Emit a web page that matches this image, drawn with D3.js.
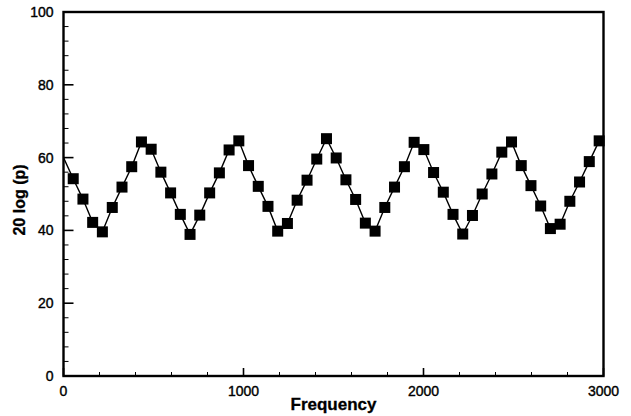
<!DOCTYPE html>
<html>
<head>
<meta charset="utf-8">
<script src="https://cdn.jsdelivr.net/npm/d3@7"></script>
<style>
  html, body { margin: 0; padding: 0; background: #fff; }
  svg { display: block; }
  text { font-family: "Liberation Sans", Arial, sans-serif; fill: #000; }
</style>
</head>
<body>
<svg id="chart" width="631" height="416"></svg>
<script>
// Sampled spectrum: frequency (Hz) and sound level 20 log(p)
const frequency = [
  0, 54, 108, 162, 216, 271, 325, 379, 433, 487, 541, 595, 649, 703,
  757, 812, 866, 920, 974, 1028, 1082, 1136, 1190, 1244, 1298, 1353, 1407, 1461,
  1515, 1569, 1623, 1677, 1731, 1785, 1839, 1894, 1948, 2002, 2056, 2110, 2164, 2218,
  2272, 2326, 2380, 2435, 2489, 2543, 2597, 2651, 2705, 2759, 2813, 2867, 2921, 2976
];
const level = [
  60.0, 54.2, 48.6, 42.2, 39.6, 46.3, 51.9, 57.5, 64.3, 62.3, 56.0, 50.3, 44.4, 38.9,
  44.2, 50.3, 55.8, 62.1, 64.6, 57.8, 52.1, 46.6, 39.8, 41.9, 48.3, 53.8, 59.6, 65.2,
  59.9, 53.9, 48.5, 42.0, 39.8, 46.3, 51.9, 57.5, 64.2, 62.2, 55.9, 50.5, 44.4, 39.0,
  44.1, 50.0, 55.5, 61.5, 64.3, 57.8, 52.3, 46.7, 40.5, 41.7, 48.0, 53.3, 58.9, 64.6
];
const xMajorTicks = [0, 1000, 2000, 3000];
const yMajorTicks = [0, 20, 40, 60, 80, 100];
const xLabel = "Frequency";
const yLabel = "20 log (p)";

(function () {
  const svg = d3.select("#chart");
  const pl = 63.5, pr = 603.5, pt = 12, pb = 376;

  const x = d3.scaleLinear().domain([0, 3000]).range([pl, pr]);
  const y = d3.scaleLinear().domain([0, 100]).range([pb, pt]);

  const points = frequency.map((f, i) => ({ f, v: level[i] }));

  // minor ticks: 4 between each pair of majors
  const xMinor = d3.range(0, 3001, 200).filter(v => v % 1000 !== 0);
  const yMinor = d3.range(0, 101, 4).filter(v => v % 20 !== 0);

  const g = svg.append("g");

  // inward ticks on the bottom axis
  g.selectAll("line.xmaj").data(xMajorTicks).join("line")
    .attr("class", "xmaj")
    .attr("x1", d => x(d)).attr("x2", d => x(d))
    .attr("y1", pb).attr("y2", pb - 8)
    .attr("stroke", "#000").attr("stroke-width", 1.6);
  g.selectAll("line.xmin").data(xMinor).join("line")
    .attr("class", "xmin")
    .attr("x1", d => x(d)).attr("x2", d => x(d))
    .attr("y1", pb).attr("y2", pb - 4)
    .attr("stroke", "#000").attr("stroke-width", 1);

  // inward ticks on the left axis
  g.selectAll("line.ymaj").data(yMajorTicks).join("line")
    .attr("class", "ymaj")
    .attr("x1", pl).attr("x2", pl + 10)
    .attr("y1", d => y(d)).attr("y2", d => y(d))
    .attr("stroke", "#000").attr("stroke-width", 1.6);
  g.selectAll("line.ymin").data(yMinor).join("line")
    .attr("class", "ymin")
    .attr("x1", pl).attr("x2", pl + 5)
    .attr("y1", d => y(d)).attr("y2", d => y(d))
    .attr("stroke", "#000").attr("stroke-width", 1);

  // frame
  g.append("rect")
    .attr("x", pl).attr("y", pt)
    .attr("width", pr - pl).attr("height", pb - pt)
    .attr("fill", "none").attr("stroke", "#000").attr("stroke-width", 2.4);

  // tick labels
  g.selectAll("text.xl").data(xMajorTicks).join("text")
    .attr("class", "xl")
    .attr("x", d => x(d)).attr("y", pb + 20)
    .attr("text-anchor", "middle")
    .style("font-size", "14px")
    .style("stroke", "#000").style("stroke-width", 0.4)
    .text(d => d);
  g.selectAll("text.yl").data(yMajorTicks).join("text")
    .attr("class", "yl")
    .attr("x", pl - 10).attr("y", d => y(d) + 5)
    .attr("text-anchor", "end")
    .style("font-size", "14px")
    .style("stroke", "#000").style("stroke-width", 0.4)
    .text(d => d);

  // axis titles
  svg.append("text")
    .attr("x", (pl + pr) / 2).attr("y", 410)
    .attr("text-anchor", "middle")
    .style("font-size", "17px").style("font-weight", "bold")
    .style("stroke", "#000").style("stroke-width", 0.3)
    .text(xLabel);
  svg.append("text")
    .attr("transform", `translate(25, ${(pt + pb) / 2 + 6}) rotate(-90)`)
    .attr("text-anchor", "middle")
    .style("font-size", "16px").style("font-weight", "bold")
    .style("stroke", "#000").style("stroke-width", 0.3)
    .text(yLabel);

  // clip the trace to the frame
  svg.append("clipPath").attr("id", "plotclip")
    .append("rect").attr("x", pl).attr("y", pt)
    .attr("width", pr - pl).attr("height", pb - pt);

  const line = d3.line().x(d => x(d.f)).y(d => y(d.v));
  svg.append("path")
    .datum(points)
    .attr("clip-path", "url(#plotclip)")
    .attr("fill", "none").attr("stroke", "#000").attr("stroke-width", 1.4)
    .attr("d", line);

  // square symbols (the zero-frequency sample carries no symbol)
  const s = 11;
  svg.selectAll("rect.sym").data(points.slice(1)).join("rect")
    .attr("class", "sym")
    .attr("x", d => x(d.f) - s / 2).attr("y", d => y(d.v) - s / 2)
    .attr("width", s).attr("height", s)
    .attr("fill", "#000");
})();
</script>
</body>
</html>
